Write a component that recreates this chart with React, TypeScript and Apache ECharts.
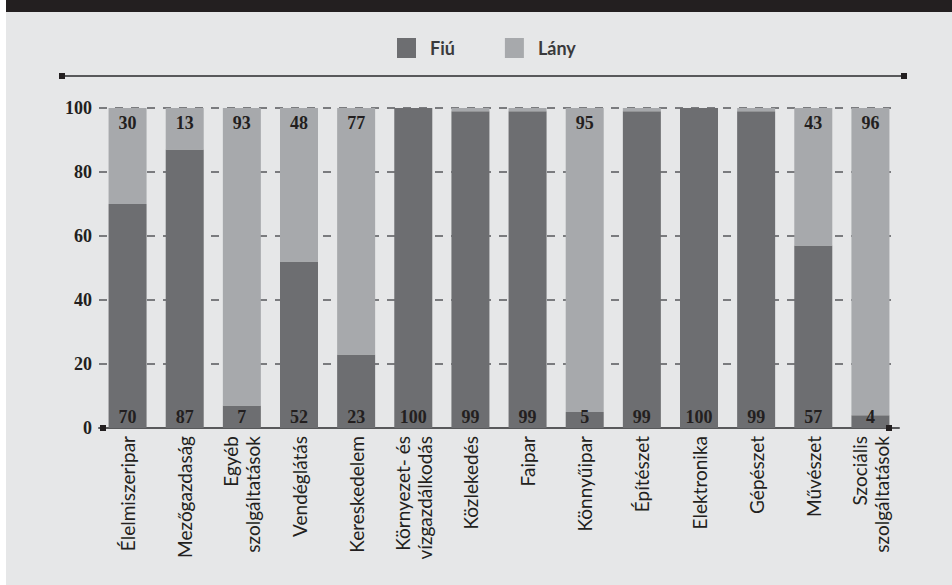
import React, { useEffect, useRef } from "react";
import * as echarts from "echarts";

const categories = [
  "Élelmiszeripar",
  "Mezőgazdaság",
  "Egyéb\nszolgáltatások",
  "Vendéglátás",
  "Kereskedelem",
  "Környezet- és\nvízgazdálkodás",
  "Közlekedés",
  "Faipar",
  "Könnyűipar",
  "Építészet",
  "Elektronika",
  "Gépészet",
  "Művészet",
  "Szociális\nszolgáltatások",
];
const fiu = [70, 87, 7, 52, 23, 100, 99, 99, 5, 99, 100, 99, 57, 4];
const lany = [30, 13, 93, 48, 77, 0, 1, 1, 95, 1, 0, 1, 43, 96];
const seriesNames = ["Fiú", "Lány"];

const DARK = "#6d6e71";
const LIGHT = "#a7a9ac";
const INK = "#231f20";
const SERIF = "'Liberation Serif', 'DejaVu Serif', serif";
const SANS = "Lato, 'Noto Sans', sans-serif";

export default function App() {
  const ref = useRef<HTMLDivElement>(null);
  useEffect(() => {
    document.body.style.margin = "0";
    document.body.style.background = "#ffffff";
    if (!ref.current) return;
    const chart = echarts.init(ref.current, undefined, { renderer: "svg" });
    const W = 946;
    chart.setOption({
      animation: false,
      backgroundColor: "#e6e7e8",
      legend: {
        left: 386,
        top: 33,
        itemWidth: 19,
        itemHeight: 20,
        itemGap: 50,
        icon: "rect",
        data: seriesNames,
        textStyle: {
          fontFamily: SANS,
          fontSize: 18,
          fontWeight: "bold",
          color: "#3a3a3c",
          padding: [0, 0, 0, 9],
        },
      },
      graphic: [
        { type: "rect", shape: { x: 0, y: 0, width: W, height: 12 }, style: { fill: INK } },
        { type: "line", shape: { x1: 56, y1: 76, x2: 898, y2: 76 }, style: { stroke: "#58595b", lineWidth: 2 } },
        { type: "rect", shape: { x: 53, y: 73, width: 6, height: 6 }, style: { fill: INK } },
        { type: "rect", shape: { x: 895, y: 73, width: 6, height: 6 }, style: { fill: INK } },
        { type: "rect", z: 10, shape: { x: 94, y: 425, width: 6, height: 6 }, style: { fill: INK } },
        { type: "rect", z: 10, shape: { x: 880, y: 425, width: 6, height: 6 }, style: { fill: INK } },
      ],
      grid: { left: 93, right: 53, top: 108, bottom: 157 },
      xAxis: {
        type: "category",
        data: categories,
        axisLine: { show: true, lineStyle: { color: "#58595b", width: 2 } },
        axisTick: { show: false },
        axisLabel: {
          rotate: 90,
          margin: 8,
          interval: 0,
          fontFamily: SANS,
          fontSize: 19,
          lineHeight: 22,
          color: INK,
        },
      },
      yAxis: {
        type: "value",
        min: 0,
        max: 100,
        interval: 20,
        axisLine: { show: false },
        axisTick: { show: false },
        axisLabel: {
          margin: 7,
          fontFamily: SERIF,
          fontWeight: "bold",
          fontSize: 18,
          color: INK,
        },
        splitLine: {
          show: true,
          lineStyle: { color: "#7a7b7e", width: 2, type: [8, 8] },
        },
      },
      series: [
        {
          name: seriesNames[0],
          type: "bar",
          stack: "total",
          barWidth: 38,
          data: fiu,
          itemStyle: { color: DARK },
          label: {
            show: true,
            position: "insideBottom",
            distance: 2,
            fontFamily: SERIF,
            fontWeight: "bold",
            fontSize: 18,
            color: INK,
          },
        },
        {
          name: seriesNames[1],
          type: "bar",
          stack: "total",
          barWidth: 38,
          data: lany,
          itemStyle: { color: LIGHT },
          label: {
            show: true,
            position: "insideTop",
            distance: 6,
            fontFamily: SERIF,
            fontWeight: "bold",
            fontSize: 18,
            color: INK,
            formatter: (p: any) => (p.value >= 3 ? String(p.value) : ""),
          },
        },
      ],
    });
    return () => chart.dispose();
  }, []);
  return (
    <div style={{ width: 952, height: 585, background: "#ffffff", position: "relative" }}>
      <div ref={ref} style={{ position: "absolute", left: 6, top: 0, width: 946, height: 585 }} />
    </div>
  );
}
